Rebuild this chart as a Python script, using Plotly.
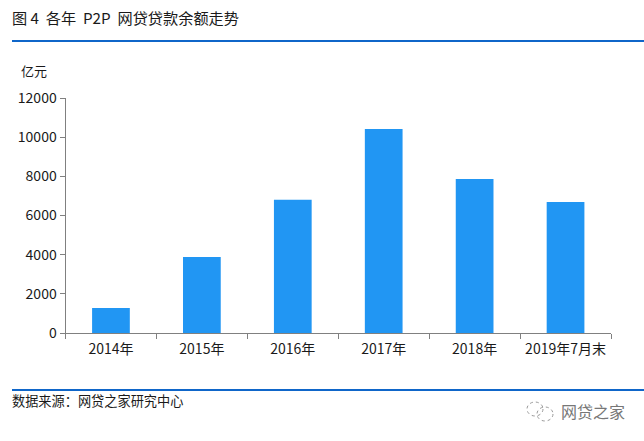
import plotly.graph_objects as go

categories = ["2014年", "2015年", "2016年", "2017年", "2018年", "2019年7月末"]
balances = [1280, 3880, 6800, 10420, 7860, 6690]
y_ticks = [0, 2000, 4000, 6000, 8000, 10000, 12000]

W, H = 644, 441
FONT = "Noto Sans CJK SC"
BLUE = "#0f66c9"


def px(x):
    return x / W


def py(y):
    return 1 - y / H


fig = go.Figure(go.Bar(
    x=categories, y=balances,
    marker=dict(color="#2196f3", line=dict(width=0)),
    width=0.415,
))


def add_text(x, y, text, size=13, color="#1a1a1a", anchor="left"):
    fig.add_annotation(
        x=px(x), y=py(y), xref="paper", yref="paper", text=text,
        showarrow=False, xanchor=anchor, yanchor="middle",
        borderpad=0, borderwidth=0,
        font=dict(size=size, color=color, family=FONT),
    )


add_text(12, 16.5, "图 4  各年  P2P  网贷贷款余额走势", size=15.2)
add_text(21, 70, "亿元", size=13)
add_text(12, 400.5, "数据来源：网贷之家研究中心", size=13.2)
add_text(561, 411, "网贷之家", size=16, color="#777777")

# header and footer rules
for y in (41, 390):
    fig.add_shape(type="line", xref="paper", yref="paper",
                  x0=px(12), x1=1, y0=py(y), y1=py(y),
                  line=dict(color=BLUE, width=2))

# wechat mark next to the watermark
for x0, y0, x1, y1 in ((527, 402, 543, 416), (537, 407, 553, 421)):
    fig.add_shape(type="circle", xref="paper", yref="paper",
                  x0=px(x0), x1=px(x1), y0=py(y0), y1=py(y1),
                  line=dict(color="#999999", width=1, dash="dot"))

fig.update_layout(
    width=W, height=H,
    autosize=False,
    paper_bgcolor="white", plot_bgcolor="white",
    showlegend=False,
    margin=dict(l=0, r=0, t=0, b=0, pad=0, autoexpand=False),
    font=dict(family=FONT, size=13, color="#1a1a1a"),
    xaxis=dict(
        domain=[px(65.5), px(611)],
        type="category", tickson="boundaries",
        ticks="outside", ticklen=5, tickwidth=1, tickcolor="#808080",
        showline=True, linecolor="#808080", linewidth=1,
        showgrid=False, tickfont=dict(size=14), ticklabelstandoff=3,
    ),
    yaxis=dict(
        domain=[py(333), py(98)],
        range=[0, 12000], tickvals=y_ticks, tickformat="d",
        ticks="outside", ticklen=5, tickwidth=1, tickcolor="#808080",
        showline=True, linecolor="#808080", linewidth=1,
        showgrid=False, zeroline=False, tickfont=dict(size=14),
    ),
)

fig.write_html(
    "out.html",
    config=dict(displayModeBar=False),
    post_script="document.documentElement.style.margin='0';document.body.style.margin='0';",
)
